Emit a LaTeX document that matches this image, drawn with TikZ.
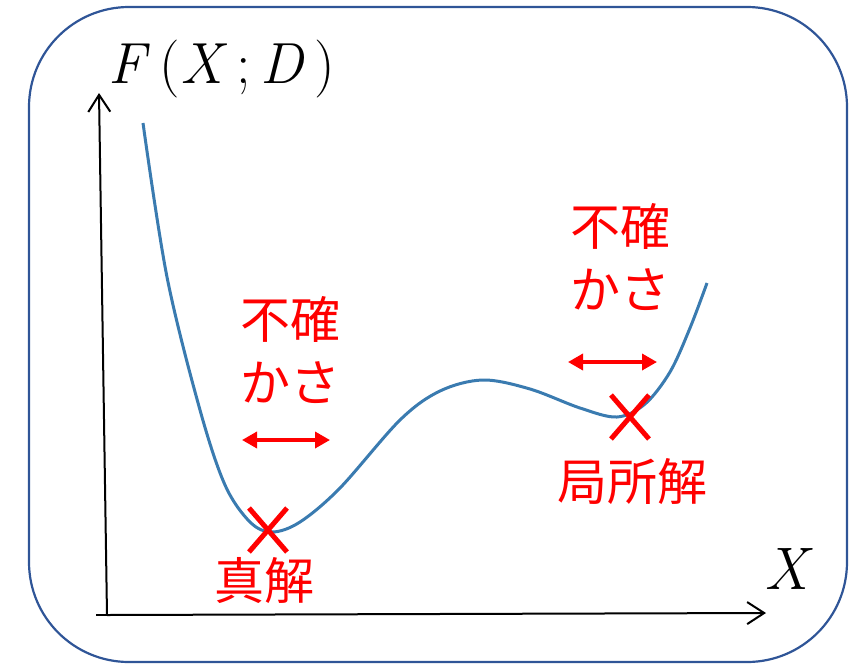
\documentclass[tikz,border=0pt]{standalone}
\usepackage{fontspec}
\usepackage{tikz}
\usetikzlibrary{arrows.meta,shapes.misc}
\newfontfamily\cjk{Noto Sans CJK JP}
\definecolor{frameBlue}{HTML}{2F5597}
\definecolor{curveBlue}{HTML}{3A7BB0}
\definecolor{markRed}{HTML}{FF0000}

\begin{document}
\begin{tikzpicture}[x=1pt,y=-1pt,
  jlabel/.style={text=markRed,font=\cjk\fontsize{50}{63}\selectfont,align=center,inner sep=0pt},
  solmark/.style={cross out,draw=markRed,line width=5pt,inner sep=0pt,minimum width=33pt,minimum height=39pt},
  axis/.style={line width=2pt,-{Straight Barb[length=17pt,width=22pt]}},
  spread/.style={markRed,line width=3.5pt,{Triangle[length=15pt,width=16pt]}-{Triangle[length=15pt,width=16pt]}}]
\useasboundingbox (0,0) rectangle (849,665);
\draw[frameBlue,line width=2.2pt,rounded corners=100pt] (29,7) rectangle (847,662);

% axes
\coordinate (origin) at (107,615);
\coordinate (ytop) at (99,93);
\coordinate (xend) at (766,613);
\draw[line width=2pt] (96,615) -- (origin);
\draw[axis] (origin) -- (ytop);
\draw[axis] (origin) -- (xend);
\node[anchor=base west,inner sep=0pt,font=\fontsize{58}{60}\selectfont] (ylab) at (108,83) {\textit{F}\,(\textit{X}\,;\,\textit{D}\,)};
\node[anchor=base west,inner sep=0pt,font=\fontsize{60}{62}\selectfont\itshape] (xlab) at (764,589) {X};

% objective curve
\draw[curveBlue,line width=3pt] plot[smooth,tension=0.55] coordinates {
  (143,123) (167,277) (200,410) (225,485) (250,522) (272,532) (300,522)
  (340,488) (400,420) (440,391) (483,380) (530,389) (580,408) (617,417)
  (645,404) (670,372) (690,328) (707,283)};

% solutions
\node[solmark] (gsol) at (268,530) {};
\node[solmark] (lsol) at (630,417) {};
\node[jlabel] (gname) at (264,581) {真解};
\node[jlabel] (lname) at (632,482) {局所解};

% uncertainty
\node[jlabel] (gunc) at (290,350) {不確\\かさ};
\node[jlabel] (lunc) at (620,257) {不確\\かさ};
\coordinate (gl) at (242,440);
\coordinate (gr) at (330,440);
\coordinate (ll) at (568,362);
\coordinate (lr) at (657,362);
\draw[spread] (gl) -- (gr);
\draw[spread] (ll) -- (lr);
\end{tikzpicture}
\end{document}
